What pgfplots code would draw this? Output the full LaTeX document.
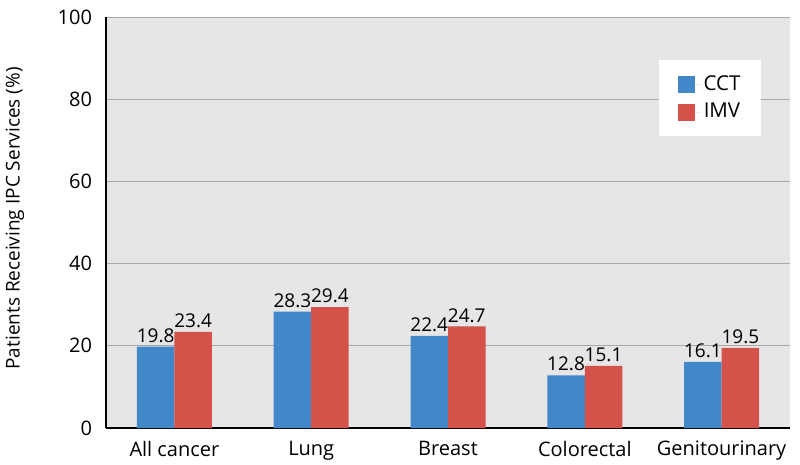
\documentclass[border=0pt]{standalone}
\usepackage{fontspec}
\setmainfont{Open Sans}
\usepackage{pgfplots}
\pgfplotsset{compat=1.18}
\definecolor{cctblue}{HTML}{4288C8}
\definecolor{imvred}{HTML}{D4524A}
\definecolor{bggray}{HTML}{E6E6E6}
\definecolor{gridgray}{HTML}{A8A8A8}
\begin{document}
\fontsize{20.5bp}{24bp}\selectfont
\begin{tikzpicture}
\useasboundingbox (-106bp,-37bp) rectangle (694bp,428bp);
\begin{axis}[
  at={(0,0)}, anchor=south west,
  scale only axis, width=684bp, height=411bp,
  xmin=-0.5, xmax=4.5, ymin=0, ymax=100,
  axis background/.style={fill=bggray},
  axis x line*=bottom, axis y line*=left,
  axis line style={black, line width=2.5pt, -},
  ybar=0pt, bar width=37.5bp,
  xtick=data, xticklabels={All cancer, Lung, Breast, Colorectal, Genitourinary},
  ytick={0,20,40,60,80,100},
  major tick length=0pt,
  ymajorgrids, grid style={gridgray, line width=0.8pt},
  /pgf/number format/assume math mode=true,
  ticklabel style={font=\fontsize{20bp}{24bp}\selectfont},
  yticklabel style={xshift=-7bp},
  xticklabel style={yshift=-6bp},
  ylabel={Patients Receiving IPC Services (\%)},
  ylabel style={font=\fontsize{19bp}{23bp}\selectfont, at={(axis description cs:-0.133,0.51)}, anchor=center},
  nodes near coords,
  nodes near coords style={font=\fontsize{19bp}{23bp}\selectfont, /pgf/number format/fixed, /pgf/number format/precision=1, /pgf/number format/fixed zerofill, /pgf/number format/assume math mode=true, inner sep=4bp},
  legend style={at={(0.883,0.895)}, anchor=north, draw=none, fill=white, font=\fontsize{20.5bp}{24bp}\selectfont, inner xsep=19bp, inner ysep=13bp, row sep=6bp},
  legend image code/.code={\fill[#1] (0bp,-8.5bp) rectangle (17bp,8.5bp); \path (0bp,0bp) -- (24bp,0bp);},
  clip=false,
]
\addplot[fill=cctblue, draw=none] coordinates {(0,19.8) (1,28.3) (2,22.4) (3,12.8) (4,16.1)};
\addplot[fill=imvred, draw=none] coordinates {(0,23.4) (1,29.4) (2,24.7) (3,15.1) (4,19.5)};
\legend{CCT, IMV}
\end{axis}
\end{tikzpicture}
\end{document}
